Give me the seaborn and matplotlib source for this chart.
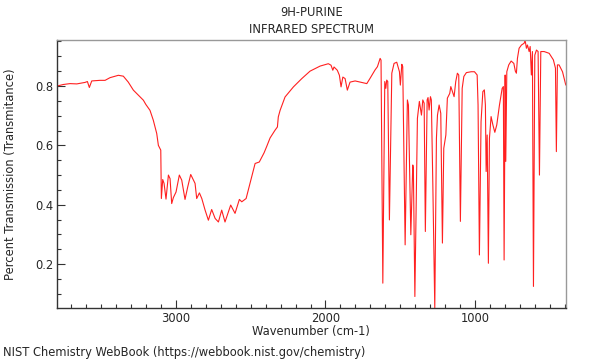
import matplotlib
matplotlib.use("Agg")
import matplotlib.pyplot as plt
from matplotlib.ticker import MultipleLocator
import pandas as pd
import seaborn as sns

# wavenumber (cm-1) and transmittance
wavenumber = [
    3791, 3751, 3706, 3661, 3606, 3590, 3577, 3561, 3506, 3472, 3439, 3383, 3350,
    3317, 3283, 3250, 3216, 3200, 3172, 3150, 3127, 3116, 3100, 3096, 3087, 3078,
    3065, 3049, 3038, 3027, 3016, 2998, 2976, 2960, 2938, 2920, 2900, 2871, 2860,
    2842, 2826, 2804, 2782, 2760, 2737, 2715, 2693, 2671, 2633, 2604, 2575, 2559,
    2530, 2504, 2470, 2442, 2410, 2392, 2370, 2337, 2321, 2315, 2303, 2270, 2214,
    2158, 2103, 2036, 1981, 1963, 1951, 1943, 1921, 1907, 1896, 1884, 1869, 1854,
    1836, 1802, 1724, 1702, 1669, 1653, 1635, 1629, 1617, 1604, 1597, 1591, 1584,
    1573, 1557, 1542, 1524, 1506, 1500, 1490, 1484, 1468, 1453, 1446, 1430, 1417,
    1413, 1403, 1386, 1373, 1359, 1350, 1341, 1333, 1321, 1315, 1308, 1299, 1293,
    1283, 1270, 1259, 1252, 1241, 1230, 1219, 1210, 1196, 1186, 1170, 1163, 1152,
    1141, 1130, 1119, 1110, 1099, 1087, 1076, 1059, 1027, 1005, 987, 981, 972,
    961, 949, 939, 932, 927, 920, 912, 905, 894, 882, 869, 856, 838, 820, 812,
    807, 800, 796, 789, 776, 760, 742, 732, 725, 718, 707, 691, 673, 667, 658,
    651, 640, 633, 625, 618, 611, 602, 591, 580, 571, 562, 540, 506, 478, 464,
    458, 451, 440, 417, 395,
]
transmittance = [
    0.800, 0.805, 0.808, 0.807, 0.812, 0.815, 0.795, 0.817, 0.819, 0.819, 0.828, 0.836, 0.833,
    0.813, 0.786, 0.769, 0.752, 0.738, 0.718, 0.685, 0.640, 0.600, 0.584, 0.421, 0.485, 0.472,
    0.419, 0.500, 0.488, 0.404, 0.424, 0.443, 0.500, 0.483, 0.418, 0.460, 0.502, 0.472, 0.421,
    0.440, 0.421, 0.382, 0.348, 0.384, 0.354, 0.342, 0.382, 0.342, 0.399, 0.371, 0.418, 0.410,
    0.421, 0.472, 0.539, 0.544, 0.575, 0.597, 0.625, 0.651, 0.662, 0.696, 0.718, 0.763, 0.797,
    0.825, 0.850, 0.867, 0.875, 0.870, 0.853, 0.864, 0.853, 0.836, 0.797, 0.830, 0.825, 0.786,
    0.813, 0.817, 0.808, 0.826, 0.854, 0.865, 0.893, 0.887, 0.136, 0.815, 0.792, 0.820, 0.815,
    0.349, 0.843, 0.876, 0.880, 0.848, 0.803, 0.873, 0.865, 0.265, 0.753, 0.736, 0.299, 0.534,
    0.523, 0.091, 0.691, 0.748, 0.702, 0.753, 0.742, 0.310, 0.753, 0.761, 0.719, 0.764, 0.753,
    0.467, 0.053, 0.624, 0.702, 0.736, 0.708, 0.271, 0.590, 0.635, 0.759, 0.775, 0.798, 0.781,
    0.764, 0.815, 0.843, 0.837, 0.344, 0.792, 0.832, 0.845, 0.848, 0.848, 0.837, 0.736, 0.231,
    0.680, 0.781, 0.787, 0.736, 0.512, 0.635, 0.203, 0.624, 0.697, 0.669, 0.644, 0.669, 0.736, 0.792,
    0.798, 0.214, 0.837, 0.546, 0.848, 0.871, 0.884, 0.876, 0.850, 0.843, 0.893, 0.927, 0.938,
    0.944, 0.955, 0.927, 0.938, 0.916, 0.933, 0.837, 0.916, 0.125, 0.904, 0.921, 0.916, 0.500,
    0.916, 0.916, 0.910, 0.888, 0.860, 0.579, 0.871, 0.871, 0.848, 0.803,
]

df = pd.DataFrame({"wavenumber": wavenumber, "transmittance": transmittance})

sns.set_style("white")
plt.rcParams["font.family"] = ["DejaVu Sans"]
fs = 8.3

fig = plt.figure(figsize=(6, 3.6), dpi=100)
ax = fig.add_axes([0.0955, 0.145, 0.8475, 0.744])

sns.lineplot(data=df, x="wavenumber", y="transmittance", sort=False, estimator=None,
             color="#ff2020", lw=0.8, ax=ax)

ax.set_xlim(max(wavenumber), min(wavenumber))
ax.set_ylim(min(transmittance), max(transmittance))

ax.xaxis.set_major_locator(MultipleLocator(1000))
ax.xaxis.set_minor_locator(MultipleLocator(100))
ax.yaxis.set_major_locator(MultipleLocator(0.2))
ax.yaxis.set_minor_locator(MultipleLocator(0.05))
ax.tick_params(which="major", direction="in", length=6, width=0.8, labelsize=fs,
               pad=3, color="#333333", bottom=True, left=True)
ax.tick_params(which="minor", direction="in", length=3, width=0.8, color="#333333",
               bottom=True, left=True)

for side in ["left", "bottom"]:
    ax.spines[side].set_color("#333333")
    ax.spines[side].set_linewidth(1.0)
for side in ["top", "right"]:
    ax.spines[side].set_color("#999999")
    ax.spines[side].set_linewidth(1.0)

ax.set_xlabel("")
ax.set_ylabel("")
fig.text(0.519, 0.078, "Wavenumber (cm-1)", ha="center", va="center", fontsize=fs)
fig.text(0.018, 0.517, "Percent Transmission (Transmitance)", ha="center", va="center",
         rotation=90, fontsize=fs)
fig.text(0.519, 0.964, "9H-PURINE", ha="center", va="center", fontsize=fs)
fig.text(0.519, 0.917, "INFRARED SPECTRUM", ha="center", va="center", fontsize=fs)
fig.text(0.005, 0.022, "NIST Chemistry WebBook (https://webbook.nist.gov/chemistry)",
         ha="left", va="center", fontsize=fs)

fig.savefig("out.png", dpi=100)
